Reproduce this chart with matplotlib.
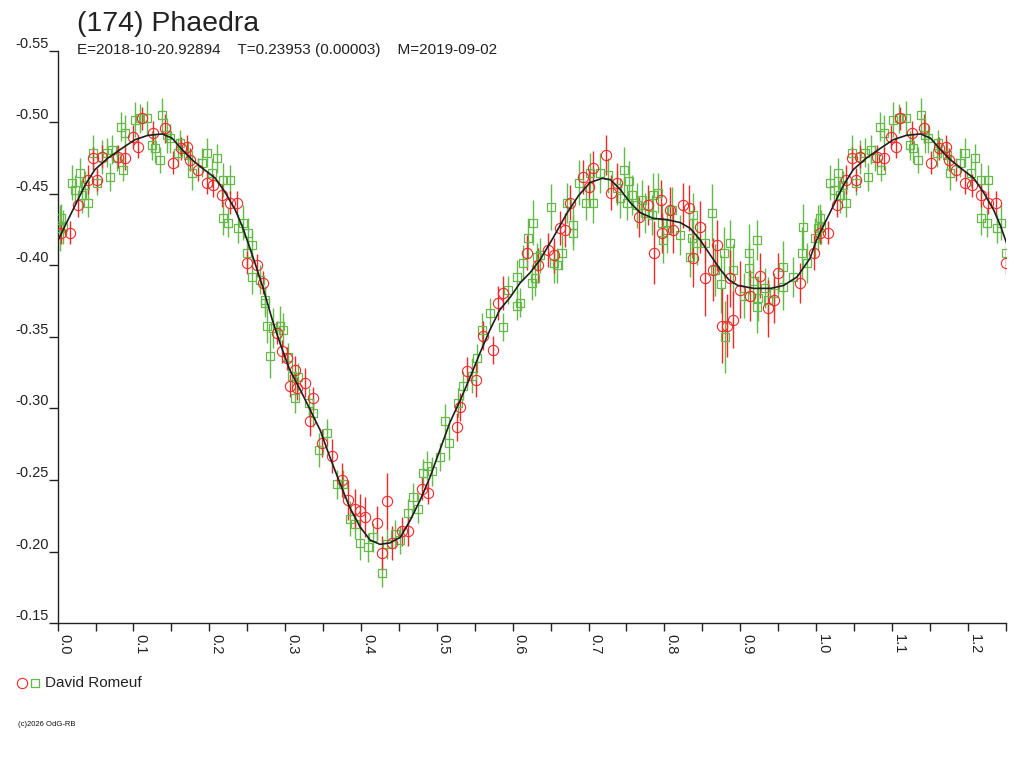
import matplotlib
matplotlib.use('Agg')
import matplotlib.pyplot as plt
import numpy as np
from matplotlib.lines import Line2D
from matplotlib.ticker import MultipleLocator

plt.rcParams['font.family'] = ['Liberation Sans', 'DejaVu Sans']
plt.rcParams['axes.unicode_minus'] = False

title = '(174) Phaedra'
subtitle = 'E=2018-10-20.92894    T=0.23953 (0.00003)    M=2019-09-02'
observer = 'David Romeuf'

# model curve
curve_phase = [0.000, 0.010, 0.023, 0.036, 0.049, 0.066, 0.085, 0.102, 0.119, 0.138,
               0.151, 0.164, 0.177, 0.191, 0.208, 0.221, 0.234, 0.243, 0.251, 0.260,
               0.271, 0.283, 0.293, 0.306, 0.320, 0.333, 0.346, 0.359, 0.372, 0.385,
               0.399, 0.412, 0.425, 0.438, 0.452, 0.465, 0.478, 0.491, 0.504, 0.517,
               0.531, 0.544, 0.557, 0.570, 0.583, 0.597, 0.610, 0.623, 0.636, 0.654,
               0.672, 0.687, 0.702, 0.718, 0.729, 0.742, 0.755, 0.768, 0.785, 0.804,
               0.821, 0.834, 0.847, 0.861, 0.874, 0.885, 0.897, 0.918, 0.940, 0.957,
               0.975, 0.992, 1.000]
curve_mag = [-0.417, -0.428, -0.442, -0.456, -0.467, -0.475, -0.482, -0.488, -0.491, -0.492,
             -0.489, -0.481, -0.474, -0.468, -0.461, -0.451, -0.439, -0.428, -0.416, -0.402,
             -0.384, -0.362, -0.346, -0.327, -0.313, -0.299, -0.285, -0.266, -0.248, -0.231,
             -0.217, -0.208, -0.205, -0.206, -0.210, -0.222, -0.236, -0.252, -0.271, -0.290,
             -0.306, -0.322, -0.339, -0.355, -0.369, -0.378, -0.388, -0.395, -0.404, -0.420,
             -0.437, -0.449, -0.458, -0.461, -0.460, -0.453, -0.444, -0.437, -0.433, -0.432,
             -0.430, -0.426, -0.418, -0.407, -0.397, -0.390, -0.386, -0.384, -0.384, -0.386,
             -0.392, -0.405, -0.417]

# green squares
green_phase = [0.005, 0.007, 0.019, 0.023, 0.029, 0.032, 0.036, 0.040, 0.047, 0.052,
               0.058, 0.065, 0.069, 0.072, 0.078, 0.084, 0.086, 0.089, 0.102, 0.109,
               0.118, 0.124, 0.128, 0.135, 0.138, 0.144, 0.148, 0.159, 0.161, 0.172,
               0.177, 0.190, 0.197, 0.204, 0.210, 0.218, 0.227, 0.218, 0.225, 0.238,
               0.244, 0.251, 0.256, 0.250, 0.256, 0.267, 0.273, 0.276, 0.284, 0.297,
               0.280, 0.304, 0.317, 0.313, 0.273, 0.293, 0.309, 0.331, 0.337, 0.344,
               0.355, 0.368, 0.376, 0.386, 0.392, 0.399, 0.409, 0.416, 0.428, 0.434,
               0.445, 0.452, 0.462, 0.469, 0.475, 0.482, 0.487, 0.494, 0.504, 0.511,
               0.516, 0.528, 0.535, 0.546, 0.553, 0.560, 0.570, 0.587, 0.594, 0.606,
               0.606, 0.614, 0.626, 0.632, 0.610, 0.620, 0.627, 0.630, 0.636, 0.650,
               0.654, 0.658, 0.665, 0.672, 0.679, 0.680, 0.687, 0.696, 0.702, 0.706,
               0.715, 0.726, 0.738, 0.747, 0.742, 0.754, 0.751, 0.757, 0.764, 0.771,
               0.775, 0.784, 0.785, 0.791, 0.797, 0.798, 0.804, 0.810, 0.821, 0.834,
               0.837, 0.838, 0.843, 0.854, 0.863, 0.867, 0.874, 0.878, 0.880, 0.887,
               0.891, 0.905, 0.911, 0.911, 0.917, 0.922, 0.922, 0.924, 0.933, 0.937,
               0.944, 0.957, 0.957, 0.969, 0.982, 0.983, 0.988, 0.999, 0.003]
green_mag = [-0.433, -0.427, -0.458, -0.453, -0.465, -0.449, -0.456, -0.444, -0.479, -0.458,
             -0.476, -0.479, -0.462, -0.481, -0.475, -0.497, -0.467, -0.493, -0.502, -0.503,
             -0.503, -0.484, -0.482, -0.474, -0.505, -0.491, -0.489, -0.479, -0.486, -0.477,
             -0.465, -0.472, -0.479, -0.465, -0.475, -0.460, -0.460, -0.433, -0.430, -0.426,
             -0.430, -0.423, -0.414, -0.409, -0.392, -0.390, -0.374, -0.358, -0.356, -0.355,
             -0.337, -0.336, -0.322, -0.307, -0.376, -0.358, -0.323, -0.304, -0.297, -0.271,
             -0.283, -0.247, -0.247, -0.223, -0.219, -0.206, -0.203, -0.210, -0.185, -0.205,
             -0.212, -0.208, -0.227, -0.238, -0.230, -0.255, -0.260, -0.256, -0.266, -0.291,
             -0.276, -0.304, -0.316, -0.323, -0.335, -0.355, -0.367, -0.357, -0.383, -0.392,
             -0.372, -0.402, -0.388, -0.406, -0.374, -0.419, -0.430, -0.391, -0.407, -0.441,
             -0.402, -0.400, -0.409, -0.444, -0.423, -0.428, -0.458, -0.444, -0.465, -0.444,
             -0.465, -0.463, -0.454, -0.467, -0.447, -0.459, -0.444, -0.449, -0.442, -0.446,
             -0.437, -0.435, -0.449, -0.451, -0.430, -0.418, -0.425, -0.439, -0.421, -0.406,
             -0.419, -0.435, -0.416, -0.416, -0.437, -0.397, -0.387, -0.409, -0.350, -0.416,
             -0.397, -0.379, -0.409, -0.398, -0.389, -0.418, -0.371, -0.377, -0.384, -0.376,
             -0.381, -0.399, -0.385, -0.392, -0.409, -0.427, -0.402, -0.419, -0.426]
green_err = [0.010, 0.012, 0.012, 0.010, 0.010, 0.012, 0.010, 0.010, 0.012, 0.009,
             0.012, 0.010, 0.010, 0.010, 0.009, 0.010, 0.008, 0.012, 0.012, 0.010,
             0.012, 0.010, 0.010, 0.009, 0.012, 0.012, 0.010, 0.010, 0.009, 0.010,
             0.012, 0.010, 0.010, 0.010, 0.010, 0.012, 0.010, 0.012, 0.010, 0.010,
             0.012, 0.010, 0.010, 0.010, 0.012, 0.010, 0.010, 0.012, 0.014, 0.012,
             0.016, 0.010, 0.010, 0.010, 0.010, 0.014, 0.010, 0.010, 0.010, 0.012,
             0.010, 0.010, 0.010, 0.012, 0.010, 0.012, 0.010, 0.010, 0.010, 0.010,
             0.010, 0.010, 0.010, 0.010, 0.010, 0.010, 0.010, 0.010, 0.010, 0.012,
             0.012, 0.010, 0.010, 0.012, 0.010, 0.012, 0.010, 0.010, 0.010, 0.012,
             0.010, 0.012, 0.012, 0.010, 0.010, 0.014, 0.016, 0.012, 0.012, 0.016,
             0.014, 0.012, 0.012, 0.014, 0.012, 0.014, 0.016, 0.012, 0.014, 0.014,
             0.014, 0.012, 0.012, 0.016, 0.014, 0.014, 0.012, 0.014, 0.016, 0.014,
             0.014, 0.014, 0.016, 0.014, 0.014, 0.016, 0.016, 0.016, 0.014, 0.014,
             0.014, 0.016, 0.016, 0.014, 0.020, 0.018, 0.020, 0.018, 0.025, 0.016,
             0.018, 0.016, 0.020, 0.018, 0.016, 0.014, 0.018, 0.016, 0.014, 0.016,
             0.014, 0.018, 0.016, 0.014, 0.018, 0.016, 0.014, 0.014, 0.016]

# red circles
red_phase = [0.005, 0.016, 0.027, 0.040, 0.047, 0.052, 0.058, 0.080, 0.089, 0.099,
             0.106, 0.111, 0.126, 0.142, 0.152, 0.162, 0.171, 0.175, 0.185, 0.197,
             0.205, 0.217, 0.227, 0.237, 0.250, 0.263, 0.271, 0.289, 0.296, 0.302,
             0.307, 0.313, 0.316, 0.326, 0.333, 0.337, 0.348, 0.362, 0.375, 0.383,
             0.392, 0.399, 0.405, 0.421, 0.428, 0.434, 0.441, 0.454, 0.462, 0.480,
             0.488, 0.527, 0.531, 0.540, 0.551, 0.561, 0.574, 0.581, 0.587, 0.619,
             0.634, 0.646, 0.654, 0.663, 0.669, 0.675, 0.693, 0.700, 0.706, 0.723,
             0.729, 0.738, 0.766, 0.779, 0.786, 0.795, 0.797, 0.808, 0.812, 0.825,
             0.832, 0.838, 0.847, 0.854, 0.864, 0.870, 0.876, 0.883, 0.891, 0.887,
             0.900, 0.913, 0.926, 0.936, 0.944, 0.950, 0.979, 0.997]
red_mag = [-0.423, -0.423, -0.442, -0.460, -0.475, -0.460, -0.476, -0.476, -0.475, -0.490,
           -0.483, -0.503, -0.493, -0.496, -0.472, -0.482, -0.483, -0.474, -0.467, -0.458,
           -0.456, -0.449, -0.444, -0.444, -0.402, -0.400, -0.388, -0.353, -0.340, -0.335,
           -0.316, -0.327, -0.314, -0.318, -0.291, -0.307, -0.276, -0.267, -0.250, -0.236,
           -0.230, -0.228, -0.224, -0.220, -0.199, -0.235, -0.206, -0.214, -0.214, -0.244,
           -0.241, -0.287, -0.301, -0.326, -0.320, -0.351, -0.341, -0.374, -0.381, -0.409,
           -0.400, -0.411, -0.407, -0.426, -0.425, -0.444, -0.462, -0.455, -0.468, -0.477,
           -0.451, -0.458, -0.434, -0.442, -0.409, -0.446, -0.423, -0.439, -0.425, -0.442,
           -0.440, -0.405, -0.427, -0.391, -0.397, -0.414, -0.358, -0.358, -0.362, -0.391,
           -0.383, -0.379, -0.393, -0.370, -0.376, -0.395, -0.388, -0.409]
red_err = [0.008, 0.008, 0.008, 0.010, 0.008, 0.008, 0.008, 0.008, 0.008, 0.008,
           0.008, 0.008, 0.008, 0.010, 0.008, 0.008, 0.008, 0.008, 0.008, 0.008,
           0.008, 0.008, 0.008, 0.008, 0.008, 0.008, 0.008, 0.008, 0.008, 0.008,
           0.008, 0.010, 0.008, 0.010, 0.010, 0.008, 0.010, 0.012, 0.012, 0.014,
           0.014, 0.012, 0.014, 0.012, 0.012, 0.020, 0.012, 0.010, 0.010, 0.008,
           0.008, 0.010, 0.010, 0.010, 0.012, 0.010, 0.010, 0.012, 0.012, 0.012,
           0.012, 0.012, 0.012, 0.012, 0.012, 0.012, 0.012, 0.012, 0.012, 0.014,
           0.012, 0.014, 0.014, 0.014, 0.022, 0.014, 0.014, 0.016, 0.016, 0.016,
           0.016, 0.020, 0.018, 0.026, 0.022, 0.018, 0.026, 0.022, 0.020, 0.020,
           0.020, 0.018, 0.016, 0.020, 0.016, 0.014, 0.014, 0.012]

x_max = 1.25
red = '#ee2a2a'
green = '#64b948'


def fold(ph, mg, er):
    # repeat the start of the phase so the plot runs past 1.0
    ph = np.array(ph)
    mg = np.array(mg)
    er = np.array(er)
    extra = ph + 1.0 <= x_max
    return (np.concatenate([ph, ph[extra] + 1.0]),
            np.concatenate([mg, mg[extra]]),
            np.concatenate([er, er[extra]]))


fig = plt.figure(figsize=(10.24, 7.68), dpi=100)
ax = fig.add_axes([0.0563, 0.1888, 0.9258, 0.7448])

gp, gm, ge = fold(green_phase, green_mag, green_err)
rp, rm, re_ = fold(red_phase, red_mag, red_err)

ax.errorbar(gp, gm, yerr=ge, fmt='none', ecolor=green, elinewidth=1.0, capsize=0, zorder=2)
ax.plot(gp, gm, 's', mfc='none', mec=green, ms=5.6, mew=0.9, zorder=3)
ax.errorbar(rp, rm, yerr=re_, fmt='none', ecolor=red, elinewidth=1.0, capsize=0, zorder=2)
ax.plot(rp, rm, 'o', mfc='none', mec=red, ms=7.4, mew=0.8, zorder=3)

cp = np.array(curve_phase)
cm = np.array(curve_mag)
ext = (cp > 0) & (cp <= 0.26)
cp_all = np.concatenate([cp, cp[ext] + 1.0])
cm_all = np.concatenate([cm, cm[ext]])
ax.plot(cp_all, cm_all, color='#1e1e1e', lw=1.2, zorder=5)

ax.set_xlim(0, x_max)
ax.set_ylim(-0.15, -0.55)

for s in ['top', 'right']:
    ax.spines[s].set_visible(False)
for s in ['left', 'bottom']:
    ax.spines[s].set_color('#222222')
    ax.spines[s].set_linewidth(1.0)

ax.set_xticks(np.arange(0, 1.21, 0.1))
ax.set_xticklabels(['%.1f' % v for v in np.arange(0, 1.21, 0.1)])
ax.xaxis.set_minor_locator(MultipleLocator(0.05))
ax.tick_params(axis='x', which='both', length=6, width=1, color='#222222', direction='out')
ax.tick_params(axis='x', which='major', labelrotation=-90, pad=2, labelsize=10.5, labelcolor='#222222')
for lab in ax.get_xticklabels():
    lab.set_ha('left')

yt = np.arange(-0.55, -0.149, 0.05)
ax.set_yticks(yt)
ax.set_yticklabels(['%.2f' % v for v in yt])
ax.tick_params(axis='y', length=6.5, width=1, color='#222222', direction='out', pad=0,
               labelsize=10.5, labelcolor='#222222')
for lab in ax.get_yticklabels():
    lab.set_va('bottom')

fig.text(77 / 1024, 1 - 31 / 768, title, fontsize=20.5, color='#222222', va='baseline')
fig.text(77 / 1024, 1 - 54 / 768, subtitle, fontsize=11, color='#222222', va='baseline')

# legend
fig.add_artist(Line2D([22 / 1024], [1 - 683 / 768], marker='o', mfc='none', mec=red,
                      ms=7.4, mew=0.8, transform=fig.transFigure))
fig.add_artist(Line2D([35 / 1024], [1 - 683 / 768], marker='s', mfc='none', mec=green,
                      ms=5.6, mew=0.9, transform=fig.transFigure))
fig.text(45 / 1024, 1 - 683 / 768, observer, fontsize=11, color='#222222', va='center')

fig.text(18 / 1024, 1 - 725 / 768, '(c)2026 OdG-RB', fontsize=5.5, color='#111111', va='center')

fig.savefig('out.png', dpi=100)
